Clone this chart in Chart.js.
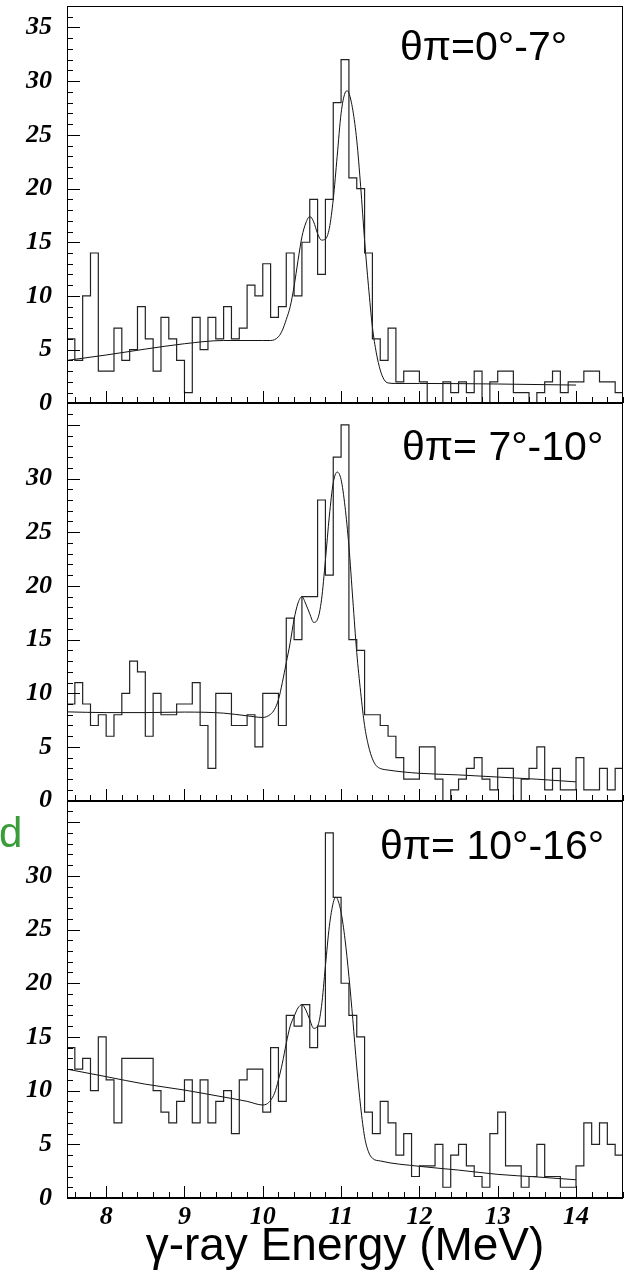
<!DOCTYPE html>
<html>
<head>
<meta charset="utf-8">
<script src="https://cdn.jsdelivr.net/npm/chart.js@4.4.0/dist/chart.umd.min.js"></script>
<style>
  html, body { margin: 0; padding: 0; background: #fff; }
  #wrap { position: relative; width: 626px; height: 1272px; }
</style>
</head>
<body>
<div id="wrap"><canvas id="myChart" width="626" height="1272"></canvas></div>
<script>
// histogram binning (MeV)
const binStart = 7.5;
const binWidth = 0.1;

// counts per 0.1 MeV bin, 7.5 -> 14.6 MeV
const counts_0to7 = [6,4,10,14,3,3,7,4,5,9, 6,3,8,6,4,1,8,5,8,6, 9,6,7,11,10,13,8,9,14,10,
  15,19,12,19,28,32,21,20,14,6, 4,7,2,3,3,2,0,0,2,1, 2,1,3,0,2,3,3,1,1,0, 1,2,3,1,2,2,3,3,2,2,1];
const counts_7to10 = [9,11,9,7,8,6,8,10,13,12, 6,10,8,8,9,9,11,7,3,10, 10,7,7,8,5,10,10,7,17,15,
  19,19,28,21,32,35,15,14,8,8, 7,6,4,2,2,5,5,2,0,1, 2,3,4,2,1,3,3,0,2,3, 5,1,3,1,1,4,1,1,3,1,3];
const counts_10to16 = [14,12,13,10,15,11,7,13,13,13, 13,10,8,7,9,11,7,11,7,9, 10,6,11,12,12,8,14,9,17,16,
  18,14,16,34,28,20,17,15,8,6, 9,7,4,6,2,3,3,5,1,4, 5,3,2,1,6,8,3,3,1,2, 5,2,2,1,1,3,7,5,7,5,4];

// fitted curves (energy, counts)
const fitE_0to7 = [7.5,8.0,8.5,9.0,9.5,10.0,10.1,10.2,10.25,10.3,10.35,10.4,10.45,10.5,10.55,10.6,10.65,10.7,10.75,10.8,
  10.85,10.9,10.95,11.0,11.05,11.08,11.1,11.15,11.2,11.25,11.3,11.35,11.4,11.45,11.5,11.55,11.6,11.7,12.0,13.0,14.0];
const fit_0to7 = [4.0,4.5,5.05,5.55,5.85,5.85,5.85,6.2,6.8,7.8,9.0,10.9,13.3,15.5,16.8,17.4,16.9,15.8,15.2,15.3,
  16.3,19.0,23.0,27.0,28.9,29.1,28.9,27.3,24.5,20.2,15.2,10.9,7.1,4.7,3.1,2.2,1.9,1.85,1.85,1.8,1.7];

const fitE_7to10 = [7.5,8.0,8.5,9.0,9.5,9.8,10.0,10.1,10.15,10.2,10.25,10.3,10.35,10.4,10.45,10.5,10.55,10.6,10.65,10.7,
  10.75,10.8,10.85,10.9,10.95,11.0,11.05,11.1,11.15,11.2,11.25,11.3,11.35,11.4,11.45,11.5,11.6,12.0,12.5,13.0,13.5,14.0];
const fit_7to10 = [8.27,8.2,8.2,8.25,8.15,7.9,7.75,8.05,8.5,9.4,11.0,12.85,14.7,16.9,18.4,19.0,18.3,17.4,16.6,16.9,
  18.7,22.4,26.5,29.6,30.6,29.9,27.4,23.7,18.7,13.8,10.1,7.0,5.1,3.9,3.25,3.0,2.85,2.55,2.4,2.2,2.0,1.75];

const fitE_10to16 = [7.5,8.0,8.5,9.0,9.5,9.8,10.0,10.05,10.1,10.15,10.2,10.25,10.3,10.35,10.4,10.45,10.5,10.55,10.6,10.65,
  10.7,10.75,10.8,10.85,10.9,10.93,10.95,11.0,11.05,11.1,11.15,11.2,11.25,11.3,11.35,11.4,11.5,12.0,12.5,13.0,13.5,14.0];
const fit_10to16 = [12.0,11.3,10.6,10.05,9.4,9.0,8.66,8.75,9.1,9.75,11.0,12.55,14.4,16.0,16.9,17.7,18.0,17.5,16.6,15.8,
  16.0,17.85,21.6,25.3,27.5,28.0,27.9,26.6,24.1,20.65,16.6,12.2,8.5,5.7,4.3,3.7,3.45,2.95,2.6,2.2,1.96,1.7];

// text and tick labels
const panelLabels = ['θπ=0°-7°', 'θπ= 7°-10°', 'θπ= 10°-16°'];
const xTitle = 'γ-ray Energy (MeV)';
const xTickValues = [8, 9, 10, 11, 12, 13, 14];
const yTicksTop = [0, 5, 10, 15, 20, 25, 30, 35];
const yTicksLower = [0, 5, 10, 15, 20, 25, 30];

function histPoints(counts) {
  const pts = counts.map((c, i) => ({x: binStart + i * binWidth, y: c}));
  pts.push({x: binStart + counts.length * binWidth, y: counts[counts.length - 1]});
  return pts;
}
function fitPoints(es, vs) {
  return es.map((e, i) => ({x: e, y: vs[i]}));
}

const tickFont = {family: '"Liberation Serif", "Times New Roman", serif', style: 'italic', weight: 'bold', size: 26};

function yScale(tickList) {
  return {
    type: 'linear', position: 'left', stack: 'panels', stackWeight: 1,
    min: 0, max: 37,
    grid: {display: false, drawTicks: false}, border: {display: false},
    ticks: {autoSkip: false, padding: 15, color: '#000', font: tickFont, callback: v => v},
    afterBuildTicks: s => { s.ticks = tickList.map(v => ({value: v})); },
    afterFit: s => { s.width = 67; s.paddingTop = 0; s.paddingBottom = 0; }
  };
}

// frame, inside tick marks and panel captions
const panelDecor = {
  id: 'panelDecor',
  afterDatasetsDraw(chart) {
    const ctx = chart.ctx, area = chart.chartArea, xs = chart.scales.x;
    const ids = ['y1', 'y2', 'y3'];
    const capX = [400, 402, 380], capDy = [54, 57, 58];
    ctx.save();
    ctx.strokeStyle = '#000';
    ctx.lineWidth = 1;
    ids.forEach((id, p) => {
      const ys = chart.scales[id];
      ctx.beginPath();
      for (let v = 0; v <= 37; v++) {
        const py = Math.round(ys.getPixelForValue(v)) + 0.5;
        ctx.moveTo(area.left, py);
        ctx.lineTo(area.left + (v % 5 === 0 ? 13 : 6), py);
      }
      const by = Math.round(ys.bottom);
      for (let k = 0; k <= 35; k++) {
        const v = 7.6 + 0.2 * k;
        const px = Math.round(xs.getPixelForValue(v)) + 0.5;
        const major = Math.abs(v - Math.round(v)) < 1e-6;
        ctx.moveTo(px, by);
        ctx.lineTo(px, by - (major ? 12 : 6));
      }
      ctx.stroke();
      ctx.beginPath();
      ctx.lineWidth = 2;
      ctx.moveTo(area.left, by);
      ctx.lineTo(area.right, by);
      ctx.stroke();
      ctx.lineWidth = 1;

      ctx.fillStyle = '#000';
      ctx.font = '41px "Liberation Sans", Arial, sans-serif';
      ctx.textAlign = 'left';
      ctx.textBaseline = 'alphabetic';
      ctx.fillText(panelLabels[p], capX[p], ys.top + capDy[p]);
    });
    ctx.strokeRect(Math.round(area.left) + 0.5, Math.round(area.top) + 0.5,
      Math.round(area.right - area.left) - 1, Math.round(area.bottom - area.top));
    ctx.fillStyle = '#3a9d3a';
    ctx.font = '42px "Liberation Sans", Arial, sans-serif';
    ctx.fillText('d', -1, 847);
    ctx.restore();
  }
};

const histStyle = {type: 'line', stepped: 'before', borderColor: '#222', borderWidth: 1.2, pointRadius: 0, fill: false};
const fitStyle = {type: 'line', borderColor: '#111', borderWidth: 1, pointRadius: 0, fill: false, cubicInterpolationMode: 'monotone'};

const context = document.getElementById('myChart').getContext('2d');
const myChart = new Chart(context, {
  type: 'line',
  data: {
    datasets: [
      {...histStyle, label: panelLabels[0], data: histPoints(counts_0to7), yAxisID: 'y1'},
      {...fitStyle, label: 'fit 1', data: fitPoints(fitE_0to7, fit_0to7), yAxisID: 'y1'},
      {...histStyle, label: panelLabels[1], data: histPoints(counts_7to10), yAxisID: 'y2'},
      {...fitStyle, label: 'fit 2', data: fitPoints(fitE_7to10, fit_7to10), yAxisID: 'y2'},
      {...histStyle, label: panelLabels[2], data: histPoints(counts_10to16), yAxisID: 'y3'},
      {...fitStyle, label: 'fit 3', data: fitPoints(fitE_10to16, fit_10to16), yAxisID: 'y3'}
    ]
  },
  options: {
    responsive: false,
    animation: false,
    devicePixelRatio: 1,
    layout: {padding: {top: 6, right: 3, left: 0, bottom: 0}},
    plugins: {legend: {display: false}, tooltip: {enabled: false}},
    scales: {
      x: {
        type: 'linear', position: 'bottom', min: 7.5, max: 14.6,
        grid: {display: false, drawTicks: false}, border: {display: false},
        ticks: {autoSkip: false, maxRotation: 0, padding: 4, color: '#000', font: tickFont, callback: v => v},
        afterBuildTicks: s => { s.ticks = xTickValues.map(v => ({value: v})); },
        afterFit: s => { s.height = 74; s.paddingLeft = 0; s.paddingRight = 0; },
        title: {display: true, text: xTitle, color: '#000', padding: {top: 0, bottom: -3},
          font: {family: '"Liberation Sans", Arial, sans-serif', size: 46, lineHeight: 1.2}}
      },
      // stacked panels: first listed sits at the bottom
      y3: yScale(yTicksLower),
      y2: yScale(yTicksLower),
      y1: yScale(yTicksTop)
    }
  },
  plugins: [panelDecor]
});
</script>
</body>
</html>
